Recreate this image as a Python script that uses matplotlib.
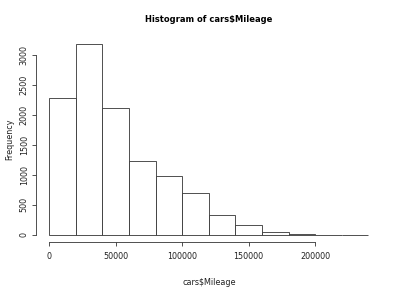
import numpy as np
import matplotlib.pyplot as plt

# histogram of cars$Mileage, bins of 20000
bin_edges = np.arange(0, 260000, 20000)
counts = [2290, 3190, 2115, 1240, 975, 705, 335, 162, 45, 6, 3, 2]

xticks = [0, 50000, 100000, 150000, 200000]
yticks = [0, 500, 1000, 1500, 2000, 2500, 3000]

fig = plt.figure(figsize=(4, 2.88), dpi=100)
ax = fig.add_axes([0.091, 0.158, 0.862, 0.717])

ax.bar(bin_edges[:-1], counts, width=np.diff(bin_edges), align='edge',
       facecolor='white', edgecolor='#333333', linewidth=0.6)

x_range = bin_edges[-1] - bin_edges[0]
ax.set_xlim(bin_edges[0] - 0.04 * x_range, bin_edges[-1] + 0.04 * x_range)
ax.set_ylim(-0.04 * max(counts), 1.04 * max(counts))

for s in ['top', 'right']:
    ax.spines[s].set_visible(False)
ax.spines['left'].set_bounds(yticks[0], yticks[-1])
ax.spines['bottom'].set_bounds(xticks[0], xticks[-1])
for s in ['left', 'bottom']:
    ax.spines[s].set_linewidth(0.6)
    ax.spines[s].set_color('#333333')

ax.set_xticks(xticks)
ax.set_xticklabels([str(t) for t in xticks])
ax.set_yticks(yticks)
ax.set_yticklabels([str(t) for t in yticks], rotation=90, va='center')
ax.tick_params(length=3, width=0.6, color='#333333', labelcolor='#222222',
               labelsize=5.8)
ax.tick_params(axis='x', pad=4)
ax.tick_params(axis='y', pad=2.5)

ax.set_xlabel('cars$Mileage', fontsize=5.8, labelpad=12, color='#222222')
ax.set_ylabel('Frequency', fontsize=5.8, labelpad=4, color='#222222')
ax.set_title('Histogram of cars$Mileage', fontsize=6, fontweight='bold', pad=10)

fig.savefig('out.png', dpi=100)
